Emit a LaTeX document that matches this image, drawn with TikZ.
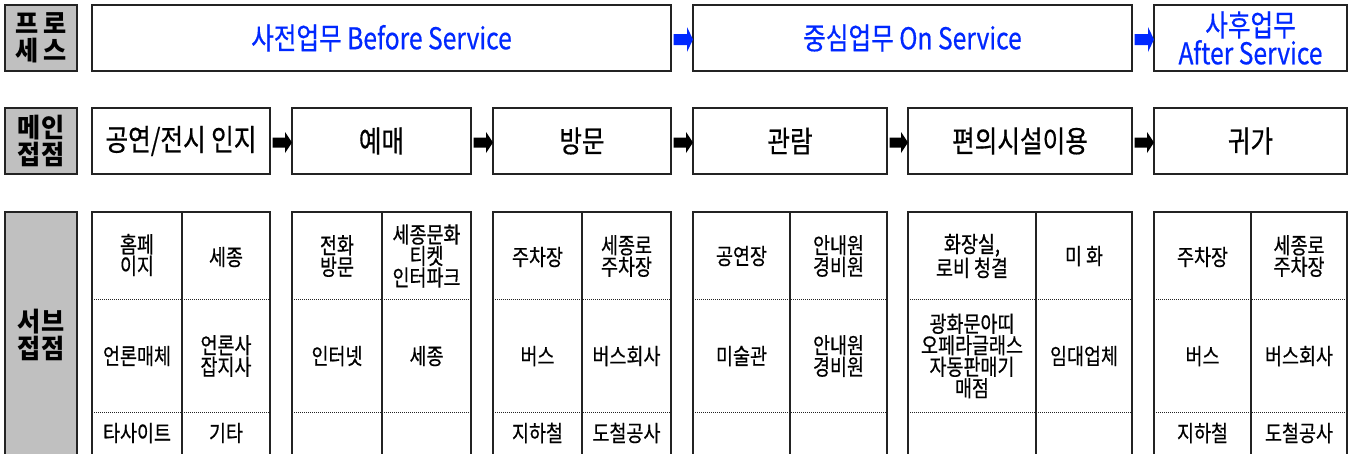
\documentclass[tikz,border=0pt]{standalone}
\usepackage{fontspec}
\usetikzlibrary{calc}
\newfontfamily\kr{Noto Sans CJK KR}[FakeStretch=0.82,FakeBold=0.5]
\newfontfamily\krl{Noto Sans CJK KR}[FakeStretch=0.95]
\definecolor{pblue}{RGB}{0,40,255}
\definecolor{lgray}{RGB}{192,192,192}
\definecolor{bord}{RGB}{35,35,35}
\tikzset{
  box/.style={draw=bord, line width=1.1pt, fill=white, inner sep=0pt, outer sep=0pt, anchor=north west},
  lbl/.style={box, fill=lgray, line width=1.5pt, minimum width=72pt, align=center,
    font=\krl\bfseries\fontsize{26.5pt}{27pt}\selectfont},
  proc/.style={box, minimum height=66pt, align=center, text=pblue,
    font=\kr\fontsize{30pt}{28pt}\selectfont},
  mainbox/.style={box, minimum height=66pt, align=center,
    font=\kr\fontsize{30pt}{28pt}\selectfont},
  grp/.style={box, minimum height=250pt},
  cell/.style={align=center, inner sep=0pt, font=\kr\fontsize{22.5pt}{21.5pt}\selectfont},
  vline/.style={draw=bord, line width=1.1pt},
  dotl/.style={draw=bord, line width=0.8pt, dash pattern=on 1pt off 1pt},
}
% block arrow: colour, from node, to node, shaft half width, head half width, head length
\newcommand\blkarrow[6]{%
  \fill[#1] ($(#2.east)+(2.5,1.5-#4)$) -- ($(#3.west)+(-#6,1.5-#4)$)
    -- ($(#3.west)+(-#6,1.5-#5)$) -- ($(#3.west)+(0,1.5)$)
    -- ($(#3.west)+(-#6,1.5+#5)$) -- ($(#3.west)+(-#6,1.5+#4)$)
    -- ($(#2.east)+(2.5,1.5+#4)$) -- cycle;}
\begin{document}
\begin{tikzpicture}[x=1pt,y=-1pt]
\useasboundingbox (0,0) rectangle (1355,453);
\clip (0,0) rectangle (1355,453);
\fill[white] (0,0) rectangle (1355,453);
% label boxes
\node[lbl, minimum height=66pt] (L1) at (5,5) {프\,로\\세\,스};
\node[lbl, minimum height=66pt] (L2) at (5,108) {메인\\접점};
\node[lbl, minimum height=250pt] (L3) at (5,212) {};
\node[align=center, font=\krl\bfseries\fontsize{26.5pt}{27pt}\selectfont] (L3t) at (41,335) {서브\\접점};
% process row
\node[proc, minimum width=579pt] (p1) at (92,5) {사전업무 Before Service};
\node[proc, minimum width=439pt] (p2) at (693,5) {중심업무 On Service};
\node[proc, minimum width=193pt] (p3) at (1154,5) {사후업무\\After Service};
\blkarrow{pblue}{p1}{p2}{5.5}{12.5}{6}
\blkarrow{pblue}{p2}{p3}{5.5}{12.5}{6}
% main row
\node[mainbox, minimum width=178pt] (m1) at (92,108) {공연/전시 인지};
\node[mainbox, minimum width=179pt] (m2) at (292,108) {예매};
\node[mainbox, minimum width=178pt] (m3) at (493,108) {방문};
\node[mainbox, minimum width=194pt] (m4) at (693,108) {관람};
\node[mainbox, minimum width=224pt] (m5) at (908,108) {편의시설이용};
\node[mainbox, minimum width=193pt] (m6) at (1154,108) {귀가};
\foreach \a/\b in {m1/m2,m2/m3,m3/m4,m4/m5,m5/m6}
  {\blkarrow{black}{\a}{\b}{5}{10.5}{7}}
% sub groups
\foreach \n/\x/\w/\m in {s1/92/178/90, s2/292/179/90, s3/493/178/89, s4/693/194/97, s5/908/224/128, s6/1154/193/97}{
  \node[grp, minimum width=\w pt] (\n) at (\x,212) {};
  \draw[vline] ([xshift=\m pt]\n.north west) -- ([xshift=\m pt]\n.south west);
  \draw[dotl] ([yshift=-87pt]\n.north west) -- ([yshift=-87pt]\n.north east);
  \draw[dotl] ([yshift=-200pt]\n.north west) -- ([yshift=-200pt]\n.north east);
}
% group 1
\node[cell] (c11) at (137,255) {홈페\\이지};
\node[cell] (c12) at (226,257) {세종};
\node[cell] (c13) at (137,356) {언론매체};
\node[cell] (c14) at (226,356) {언론사\\잡지사};
\node[cell] (c15) at (137,433) {타사이트};
\node[cell] (c16) at (226,433) {기타};
% group 2
\node[cell] (c21) at (337,256) {전화\\방문};
\node[cell] (c22) at (426.5,256) {세종문화\\티켓\\인터파크};
\node[cell] (c23) at (337,356) {인터넷};
\node[cell] (c24) at (426.5,356) {세종};
% group 3
\node[cell] (c31) at (537.5,257) {주차장};
\node[cell] (c32) at (626.5,256) {세종로\\주차장};
\node[cell] (c33) at (537.5,356) {버스};
\node[cell] (c34) at (626.5,356) {버스회사};
\node[cell] (c35) at (537.5,433) {지하철};
\node[cell] (c36) at (626.5,433) {도철공사};
% group 4
\node[cell] (c41) at (741.5,256) {공연장};
\node[cell] (c42) at (838.5,256) {안내원\\경비원};
\node[cell] (c43) at (741.5,356) {미술관};
\node[cell] (c44) at (838.5,356) {안내원\\경비원};
% group 5
\node[cell] (c51) at (972,256) {화장실,\\로비 청결};
\node[cell] (c52) at (1084,256) {미 화};
\node[cell] (c53) at (972,356) {광화문아띠\\오페라글래스\\자동판매기\\매점};
\node[cell] (c54) at (1084,356) {임대업체};
% group 6
\node[cell] (c61) at (1202.5,257) {주차장};
\node[cell] (c62) at (1299,256) {세종로\\주차장};
\node[cell] (c63) at (1202.5,356) {버스};
\node[cell] (c64) at (1299,356) {버스회사};
\node[cell] (c65) at (1202.5,433) {지하철};
\node[cell] (c66) at (1299,433) {도철공사};
\end{tikzpicture}
\end{document}
